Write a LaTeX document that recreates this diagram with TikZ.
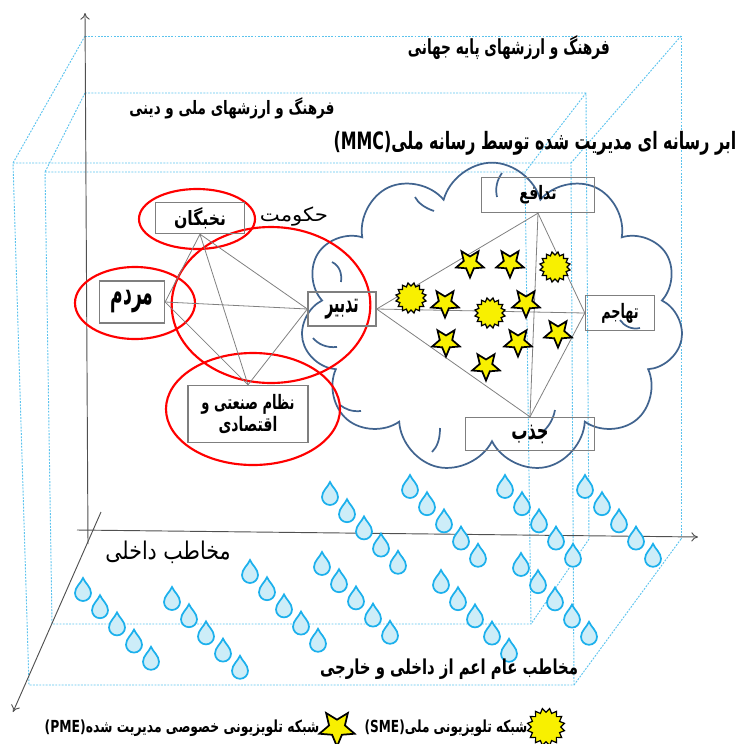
\documentclass[tikz,border=0pt]{standalone}
\usepackage{fontspec}
\usepackage{graphicx}
\usetikzlibrary{shapes.geometric,shapes.symbols,arrows.meta}
\newfontfamily\fa[Script=Arabic]{DejaVu Sans}
\TeXXeTstate=1
\newcommand\fat[1]{{\fa\beginR #1\endR}}
\newcommand\fitwh[3]{\resizebox*{#1}{#2}{#3}}
\definecolor{dotblue}{HTML}{5BC3EE}
\definecolor{cloudblue}{HTML}{41648F}
\definecolor{dropline}{HTML}{1CB0EC}
\definecolor{dropfill}{HTML}{CDEDF8}
\definecolor{boxgray}{HTML}{7F7F7F}
\definecolor{axisgray}{HTML}{505050}
\definecolor{staryellow}{HTML}{F8F000}
\tikzset{
  dotl/.style={dotblue, line width=0.7pt, dash pattern=on 1.4pt off 1pt},
  axisline/.style={axisgray, line width=0.7pt, -{To[length=5pt,width=7pt]}},
  nbox/.style={draw=boxgray, line width=1pt, inner sep=0pt, font=\fa\bfseries},
  conn/.style={draw=gray, line width=0.6pt},
  redell/.style={ellipse, draw=red, line width=1.6pt, inner sep=0pt},
  cloudarc/.style={draw=cloudblue, line width=1.3pt},
  starnode/.style={star, star points=5, star point ratio=0.45, fill=staryellow, draw=black, line width=1.3pt, inner sep=0pt, minimum size=9.8pt},
  sunnode/.style={star, star points=16, star point ratio=0.78, fill=staryellow, draw=black, line width=0.9pt, inner sep=0pt, minimum size=18pt},
  lab/.style={inner sep=0pt, font=\fa\bfseries},
  droplet/.pic={\draw[dropline, fill=dropfill, line width=1.3pt] (0,-12) .. controls (2,-7) and (8,-3) .. (8,3) arc[start angle=0,end angle=180,radius=8] .. controls (-8,-3) and (-2,-7) .. cycle;}
}
\begin{document}
\begin{tikzpicture}[x=0.75pt,y=-0.75pt]
\useasboundingbox (0,0) rectangle (736,744);
% ---- dotted boxes (outer: global culture)
\coordinate (ob1) at (85,36); \coordinate (ob2) at (681,36); \coordinate (ob3) at (681,539);
\coordinate (of1) at (13,163); \coordinate (of2) at (571,163); \coordinate (of3) at (574,685); \coordinate (of4) at (29,685);
\draw[dotl] (ob1) -- (ob2) -- (ob3);
\draw[dotl] (ob1) -- (of1); \draw[dotl] (ob2) -- (of2); \draw[dotl] (ob3) -- (of3);
\draw[dotl] (of1) -- (of2) -- (of3) -- (of4) -- cycle;
% ---- dotted boxes (inner: national culture)
\coordinate (ib1) at (85,93); \coordinate (ib2) at (586,93); \coordinate (ib3) at (589,539);
\coordinate (if1) at (45,172); \coordinate (if2) at (525,172); \coordinate (if3) at (531,624); \coordinate (if4) at (52,624);
\draw[dotl] (ib1) -- (ib2) -- (ib3);
\draw[dotl] (ib1) -- (if1); \draw[dotl] (ib2) -- (if2); \draw[dotl] (ib3) -- (if3);
\draw[dotl] (if1) -- (if2) -- (if3) -- (if4) -- cycle;
% ---- axes
\coordinate (v0) at (88,544); \coordinate (v1) at (85,13);
\coordinate (h0) at (77,530); \coordinate (h1) at (698,537);
\coordinate (d0) at (101,512); \coordinate (d1) at (13,712);
\draw[axisline] (v0) -- (v1);
\draw[axisline] (h0) -- (h1);
\draw[axisline] (d0) -- (d1);
% ---- cloud
\node[cloud, draw=cloudblue, line width=1.3pt, cloud puffs=11, aspect=1.23, inner sep=0pt, minimum width=287pt, minimum height=233pt] (cl) at (492,318) {};
% inner arcs of the cloud
\draw[cloudarc] (332,262) .. controls (340,266) and (342,274) .. (341,282);
\draw[cloudarc] (337,347) .. controls (326,348) and (318,344) .. (313,338);
\draw[cloudarc] (361,411) .. controls (352,412) and (345,409) .. (340,405);
\draw[cloudarc] (440,428) .. controls (440,440) and (437,447) .. (432,452);
\draw[cloudarc] (555,410) .. controls (553,420) and (548,428) .. (542,432);
\draw[cloudarc] (640,328) .. controls (632,330) and (624,326) .. (620,320);
\draw[cloudarc] (497,197) .. controls (495,188) and (497,180) .. (502,173);
\draw[cloudarc] (434,211) .. controls (425,208) and (418,203) .. (415,197);
% ---- red ellipses
\node[redell, minimum width=87pt, minimum height=45pt] (e1) at (197,219) {};
\node[redell, minimum width=90pt, minimum height=54pt] (e2) at (135,303) {};
\node[redell, minimum width=149pt, minimum height=117pt] (e3) at (271,305) {};
\node[redell, minimum width=130.5pt, minimum height=84pt] (e4) at (253,409) {};
% ---- boxes
\node[nbox, minimum width=66.75pt, minimum height=23.25pt] (nk) at (200,218) {\fitwh{39pt}{16pt}{\fat{نخبگان}}};
\node[nbox, minimum width=48.75pt, minimum height=31.5pt] (mr) at (132,302) {\fitwh{32pt}{17pt}{\fat{مردم}}};
\node[nbox, minimum width=51pt, minimum height=25.5pt] (td) at (342,309) {\fitwh{25pt}{15pt}{\fat{تدبیر}}};
\node[nbox, minimum width=90pt, minimum height=42.75pt, align=center] (nz) at (248,414) {\fitwh{70pt}{15pt}{\fat{نظام صنعتی و}}\\[1pt]\fitwh{44pt}{13pt}{\fat{اقتصادی}}};
\node[nbox, minimum width=84.75pt, minimum height=26.25pt] (df) at (538,195) {\fitwh{28pt}{14pt}{\fat{تدافع}}};
\node[nbox, minimum width=51.75pt, minimum height=26.25pt] (th) at (620,313) {\fitwh{28pt}{15pt}{\fat{تهاجم}}};
\node[nbox, minimum width=96.75pt, minimum height=24.75pt] (jz) at (530,434) {\fitwh{28pt}{14pt}{\fat{جذب}}};
% ---- connectors left
\draw[conn] (nk.south) -- (mr.east);
\draw[conn] (nk.south) -- (td.west);
\draw[conn] (nk.south) -- (nz.north);
\draw[conn] (mr.east) -- (td.west);
\draw[conn] (mr.east) -- (nz.north);
\draw[conn] (td.west) -- (nz.north);
% ---- connectors right
\draw[conn] (td.east) -- (df.south);
\draw[conn] (td.east) -- (th.west);
\draw[conn] (td.east) -- (jz.north);
\draw[conn] (df.south) -- (jz.north);
\draw[conn] (df.south) -- (th.west);
\draw[conn] (th.west) -- (jz.north);
% ---- suns and stars
\node[sunnode] (s1) at (411,298) {};
\node[sunnode] (s2) at (555,267) {};
\node[sunnode] (s3) at (490,313) {};
\node[starnode] (t1) at (470,263) {};
\node[starnode] (t2) at (510,263) {};
\node[starnode] (t3) at (445,303) {};
\node[starnode] (t4) at (526,303) {};
\node[starnode] (t5) at (446,342) {};
\node[starnode] (t6) at (518,342) {};
\node[starnode] (t7) at (558,333) {};
\node[starnode] (t8) at (486,366) {};
% ---- droplets
\foreach \x/\y in {83/590,172/599,250/572,322/564,330/494,410/487,441/582,505/487,521/565,585/487}{
  \foreach \k in {0,...,4}{
    \pic at ({\x+17*\k},{\y+17.2*\k}) {droplet};
  }
}
% ---- labels
\node[lab] (l1) at (509,48) {\fitwh{151.5pt}{18pt}{\fat{فرهنگ و ارزشهای پایه جهانی}}};
\node[lab] (l2) at (232,108) {\fitwh{153.75pt}{16pt}{\fat{فرهنگ و ارزشهای ملی و دینی}}};
\node[lab] (l3) at (535,143) {\fitwh{302pt}{18pt}{\fat{ابر رسانه ای مدیریت شده توسط رسانه ملی\beginL(MMC)\endL}}};
\node[lab, font=\fa] (l4) at (294,217) {\fitwh{51pt}{14.5pt}{\fat{حکومت}}};
\node[lab, font=\fa] (l5) at (168,552) {\fitwh{94pt}{17pt}{\fat{مخاطب داخلی}}};
\node[lab] (l6) at (449,669) {\fitwh{193.5pt}{15.5pt}{\fat{مخاطب عام اعم از داخلی و خارجی}}};
% ---- legend
\node[starnode, minimum size=12.5pt] (lgs) at (337,728) {};
\node[lab] (lgt1) at (182,728) {\fitwh{206pt}{12.5pt}{\fat{شبکه تلویزیونی خصوصی مدیریت شده\beginL(PME)\endL}}};
\node[sunnode, minimum size=22pt] (lgu) at (546,727) {};
\node[lab] (lgt2) at (446,728) {\fitwh{122pt}{12.5pt}{\fat{شبکه تلویزیونی ملی\beginL(SME)\endL}}};
\end{tikzpicture}
\end{document}
